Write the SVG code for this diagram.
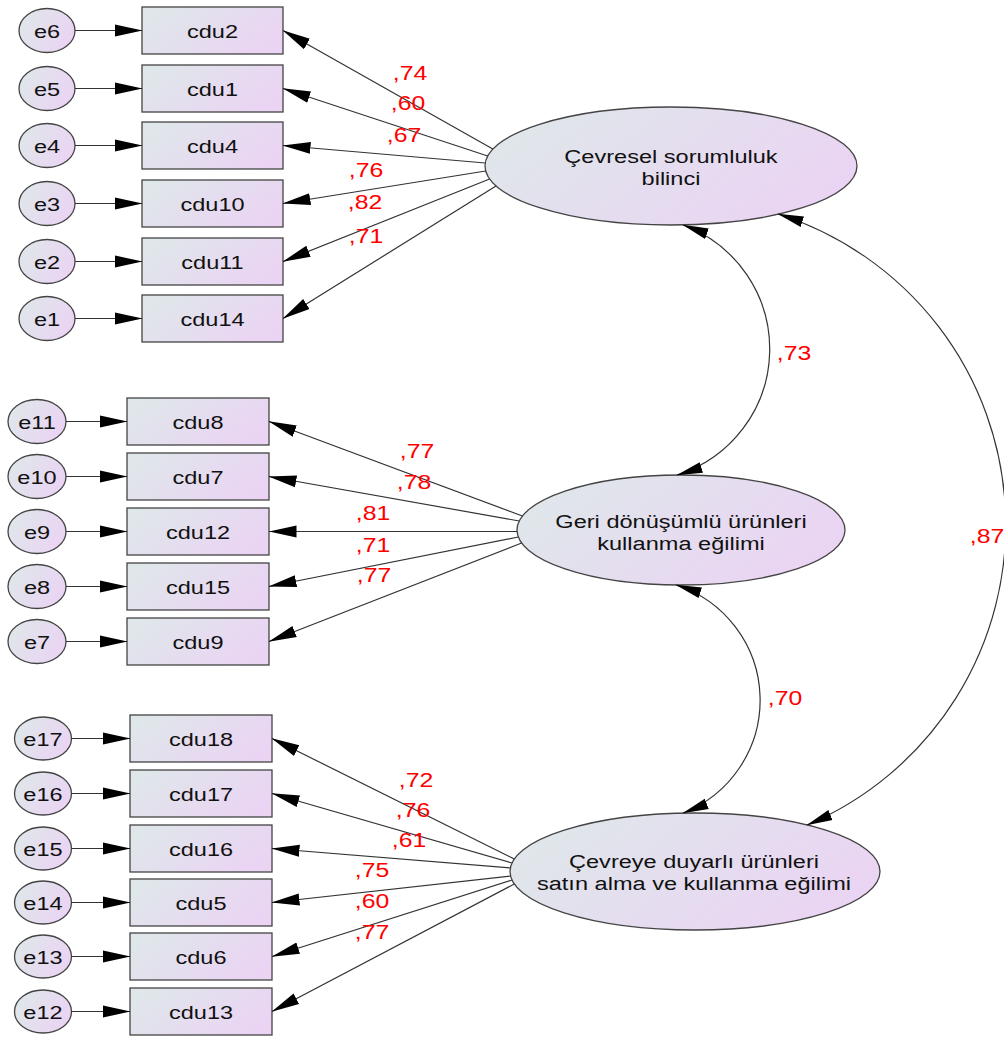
<svg xmlns="http://www.w3.org/2000/svg" width="1004" height="1037" viewBox="0 0 1004 1037">
<defs>
<linearGradient id="fill" x1="0" y1="0.3" x2="1" y2="0.7">
<stop offset="0" stop-color="#dfe7ea"/>
<stop offset="1" stop-color="#ebd3f4"/>
</linearGradient>
<marker id="ah" viewBox="0 0 28 14" markerWidth="28" markerHeight="14" refX="27.5" refY="7" orient="auto-start-reverse" markerUnits="userSpaceOnUse">
<path d="M0,1 L28,7 L0,13 Z" fill="#000"/>
</marker>
<marker id="ahs" viewBox="0 0 26 13" markerWidth="26" markerHeight="13" refX="25.5" refY="6.5" orient="auto-start-reverse" markerUnits="userSpaceOnUse">
<path d="M0,1 L26,6.5 L0,12 Z" fill="#000"/>
</marker>
</defs>
<style>
.box{fill:url(#fill);stroke:#444;stroke-width:1.3}
.t{font-family:"Liberation Sans",Arial,sans-serif;font-size:19px;fill:#111;text-anchor:middle}
.r{font-family:"Liberation Sans",Arial,sans-serif;font-size:21px;fill:#ff0000;text-anchor:middle}
.c{fill:none;stroke:#333;stroke-width:1.2}
.a{marker-end:url(#ah)}
.d{marker-start:url(#ahs);marker-end:url(#ahs)}
</style>
<rect width="1004" height="1037" fill="#fff"/>

<!-- top group -->
<g id="cdu2"><rect class="box" x="142" y="7" width="141" height="47"/><text class="t" transform="translate(212.5,37.5) scale(1.24,1)">cdu2</text></g>
<g id="cdu1"><rect class="box" x="142" y="65" width="141" height="47"/><text class="t" transform="translate(212.5,95.5) scale(1.24,1)">cdu1</text></g>
<g id="cdu4"><rect class="box" x="142" y="122" width="141" height="47"/><text class="t" transform="translate(212.5,152.5) scale(1.24,1)">cdu4</text></g>
<g id="cdu10"><rect class="box" x="142" y="180" width="141" height="47"/><text class="t" transform="translate(212.5,210.5) scale(1.24,1)">cdu10</text></g>
<g id="cdu11"><rect class="box" x="142" y="238" width="141" height="47"/><text class="t" transform="translate(212.5,268.5) scale(1.24,1)">cdu11</text></g>
<g id="cdu14"><rect class="box" x="142" y="295" width="141" height="47"/><text class="t" transform="translate(212.5,325.5) scale(1.24,1)">cdu14</text></g>

<g id="e6"><ellipse class="box" cx="47" cy="30.5" rx="28" ry="22"/><text class="t" transform="translate(47,37.5) scale(1.24,1)">e6</text></g>
<g id="e5"><ellipse class="box" cx="47" cy="88.5" rx="28" ry="22"/><text class="t" transform="translate(47,95.5) scale(1.24,1)">e5</text></g>
<g id="e4"><ellipse class="box" cx="47" cy="145.5" rx="28" ry="22"/><text class="t" transform="translate(47,152.5) scale(1.24,1)">e4</text></g>
<g id="e3"><ellipse class="box" cx="47" cy="203.5" rx="28" ry="22"/><text class="t" transform="translate(47,210.5) scale(1.24,1)">e3</text></g>
<g id="e2"><ellipse class="box" cx="47" cy="261.5" rx="28" ry="22"/><text class="t" transform="translate(47,268.5) scale(1.24,1)">e2</text></g>
<g id="e1"><ellipse class="box" cx="47" cy="318.5" rx="28" ry="22"/><text class="t" transform="translate(47,325.5) scale(1.24,1)">e1</text></g>

<!-- middle group -->
<g id="cdu8"><rect class="box" x="127" y="398" width="142" height="47"/><text class="t" transform="translate(198,428.5) scale(1.24,1)">cdu8</text></g>
<g id="cdu7"><rect class="box" x="127" y="453" width="142" height="47"/><text class="t" transform="translate(198,483.5) scale(1.24,1)">cdu7</text></g>
<g id="cdu12"><rect class="box" x="127" y="508" width="142" height="47"/><text class="t" transform="translate(198,538.5) scale(1.24,1)">cdu12</text></g>
<g id="cdu15"><rect class="box" x="127" y="563" width="142" height="47"/><text class="t" transform="translate(198,593.5) scale(1.24,1)">cdu15</text></g>
<g id="cdu9"><rect class="box" x="127" y="618" width="142" height="47"/><text class="t" transform="translate(198,648.5) scale(1.24,1)">cdu9</text></g>

<g id="e11"><ellipse class="box" cx="37" cy="421.5" rx="29" ry="22"/><text class="t" transform="translate(37,428.5) scale(1.24,1)">e11</text></g>
<g id="e10"><ellipse class="box" cx="37" cy="476.5" rx="29" ry="22"/><text class="t" transform="translate(37,483.5) scale(1.24,1)">e10</text></g>
<g id="e9"><ellipse class="box" cx="37" cy="531.5" rx="29" ry="22"/><text class="t" transform="translate(37,538.5) scale(1.24,1)">e9</text></g>
<g id="e8"><ellipse class="box" cx="37" cy="586.5" rx="29" ry="22"/><text class="t" transform="translate(37,593.5) scale(1.24,1)">e8</text></g>
<g id="e7"><ellipse class="box" cx="37" cy="641.5" rx="29" ry="22"/><text class="t" transform="translate(37,648.5) scale(1.24,1)">e7</text></g>

<!-- bottom group -->
<g id="cdu18"><rect class="box" x="130" y="715" width="142" height="47"/><text class="t" transform="translate(201,745.5) scale(1.24,1)">cdu18</text></g>
<g id="cdu17"><rect class="box" x="130" y="770" width="142" height="47"/><text class="t" transform="translate(201,800.5) scale(1.24,1)">cdu17</text></g>
<g id="cdu16"><rect class="box" x="130" y="825" width="142" height="47"/><text class="t" transform="translate(201,855.5) scale(1.24,1)">cdu16</text></g>
<g id="cdu5"><rect class="box" x="130" y="879" width="142" height="47"/><text class="t" transform="translate(201,909.5) scale(1.24,1)">cdu5</text></g>
<g id="cdu6"><rect class="box" x="130" y="933" width="142" height="47"/><text class="t" transform="translate(201,963.5) scale(1.24,1)">cdu6</text></g>
<g id="cdu13"><rect class="box" x="130" y="988" width="142" height="47"/><text class="t" transform="translate(201,1018.5) scale(1.24,1)">cdu13</text></g>

<g id="e17"><ellipse class="box" cx="43" cy="738.5" rx="28.5" ry="21.5"/><text class="t" transform="translate(43,745.5) scale(1.24,1)">e17</text></g>
<g id="e16"><ellipse class="box" cx="43" cy="793.5" rx="28.5" ry="21.5"/><text class="t" transform="translate(43,800.5) scale(1.24,1)">e16</text></g>
<g id="e15"><ellipse class="box" cx="43" cy="848.5" rx="28.5" ry="21.5"/><text class="t" transform="translate(43,855.5) scale(1.24,1)">e15</text></g>
<g id="e14"><ellipse class="box" cx="43" cy="902.5" rx="28.5" ry="21.5"/><text class="t" transform="translate(43,909.5) scale(1.24,1)">e14</text></g>
<g id="e13"><ellipse class="box" cx="43" cy="956.5" rx="28.5" ry="21.5"/><text class="t" transform="translate(43,963.5) scale(1.24,1)">e13</text></g>
<g id="e12"><ellipse class="box" cx="43" cy="1011.5" rx="28.5" ry="21.5"/><text class="t" transform="translate(43,1018.5) scale(1.24,1)">e12</text></g>

<!-- latent variables -->
<g id="f1"><ellipse class="box" cx="671" cy="166" rx="186" ry="59"/>
<text class="t" transform="translate(671,163) scale(1.24,1)">Çevresel sorumluluk</text>
<text class="t" transform="translate(671,185) scale(1.24,1)">bilinci</text></g>
<g id="f2"><ellipse class="box" cx="681" cy="530" rx="164" ry="55"/>
<text class="t" transform="translate(681,528) scale(1.24,1)">Geri dönüşümlü ürünleri</text>
<text class="t" transform="translate(681,550) scale(1.24,1)">kullanma eğilimi</text></g>
<g id="f3"><ellipse class="box" cx="695" cy="871.5" rx="185" ry="58.5"/>
<text class="t" transform="translate(694,868) scale(1.24,1)">Çevreye duyarlı ürünleri</text>
<text class="t" transform="translate(694,890) scale(1.24,1)">satın alma ve kullanma eğilimi</text></g>

<g id="connectors">
<!-- error arrows -->
<path class="c a" d="M75,30.5H142"/>
<path class="c a" d="M75,88.5H142"/>
<path class="c a" d="M75,145.5H142"/>
<path class="c a" d="M75,203.5H142"/>
<path class="c a" d="M75,261.5H142"/>
<path class="c a" d="M75,318.5H142"/>
<path class="c a" d="M66,421.5H127"/>
<path class="c a" d="M66,476.5H127"/>
<path class="c a" d="M66,531.5H127"/>
<path class="c a" d="M66,586.5H127"/>
<path class="c a" d="M66,641.5H127"/>
<path class="c a" d="M71.5,738.5H130"/>
<path class="c a" d="M71.5,793.5H130"/>
<path class="c a" d="M71.5,848.5H130"/>
<path class="c a" d="M71.5,902.5H130"/>
<path class="c a" d="M71.5,956.5H130"/>
<path class="c a" d="M71.5,1011.5H130"/>
<!-- loadings f1 -->
<path class="c a" d="M492.8,149L283,30.5"/>
<path class="c a" d="M487.7,156L283,88.5"/>
<path class="c a" d="M485.2,163L283,145.5"/>
<path class="c a" d="M485.7,171L283,203.5"/>
<path class="c a" d="M489.6,179L283,261.5"/>
<path class="c a" d="M496,186L283,318.5"/>
<!-- loadings f2 -->
<path class="c a" d="M522.4,516L269,421.5"/>
<path class="c a" d="M519.2,521L269,476.5"/>
<path class="c a" d="M517,531.5L269,531.5"/>
<path class="c a" d="M518.3,537L269,586.5"/>
<path class="c a" d="M521.7,543L269,641.5"/>
<!-- loadings f3 -->
<path class="c a" d="M514.3,859L272,738.5"/>
<path class="c a" d="M512,863L272,793.5"/>
<path class="c a" d="M510.4,868L272,848.5"/>
<path class="c a" d="M510.5,876L272,902.5"/>
<path class="c a" d="M512,880L272,956.5"/>
<path class="c a" d="M514.3,884L272,1011.5"/>
<!-- covariances -->
<path class="c d" d="M683,225A132,132 0 0 1 677,475"/>
<path class="c d" d="M676,585A121,121 0 0 1 683,813"/>
<path class="c d" d="M778,214A326,326 0 0 1 807,825"/>
</g>

<g id="labels">
<text class="r" transform="translate(410,80) scale(1.18,1)">,74</text>
<text class="r" transform="translate(408,110) scale(1.18,1)">,60</text>
<text class="r" transform="translate(404,142) scale(1.18,1)">,67</text>
<text class="r" transform="translate(366,177) scale(1.18,1)">,76</text>
<text class="r" transform="translate(365,209) scale(1.18,1)">,82</text>
<text class="r" transform="translate(366,243) scale(1.18,1)">,71</text>
<text class="r" transform="translate(417,458) scale(1.18,1)">,77</text>
<text class="r" transform="translate(414,489) scale(1.18,1)">,78</text>
<text class="r" transform="translate(373,520) scale(1.18,1)">,81</text>
<text class="r" transform="translate(373,552) scale(1.18,1)">,71</text>
<text class="r" transform="translate(374,582) scale(1.18,1)">,77</text>
<text class="r" transform="translate(416,787) scale(1.18,1)">,72</text>
<text class="r" transform="translate(413,817) scale(1.18,1)">,76</text>
<text class="r" transform="translate(409,847) scale(1.18,1)">,61</text>
<text class="r" transform="translate(372,877) scale(1.18,1)">,75</text>
<text class="r" transform="translate(372,908) scale(1.18,1)">,60</text>
<text class="r" transform="translate(372,939) scale(1.18,1)">,77</text>
<text class="r" transform="translate(794,360) scale(1.18,1)">,73</text>
<text class="r" transform="translate(785,705) scale(1.18,1)">,70</text>
<text class="r" transform="translate(987,543) scale(1.18,1)">,87</text>
</g>
</svg>
